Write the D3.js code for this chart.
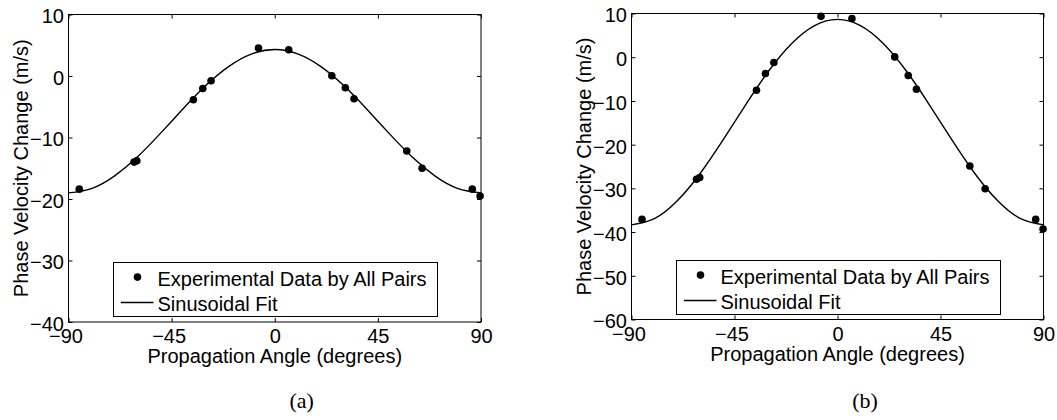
<!DOCTYPE html>
<html>

<head>
    <meta charset="utf-8">
    <title>Phase velocity change</title>
    <script src="https://d3js.org/d3.v7.min.js"></script>
    <style>
        body {
            margin: 0;
            background: #fff;
        }

        text {
            font-family: "Liberation Sans", Arial, sans-serif;
            font-size: 20px;
            fill: #000;
        }

        .caption {
            font-family: "Liberation Serif", "Times New Roman", serif;
            font-size: 22px;
        }
    </style>
</head>

<body>
    <div id="chart"></div>
    <script>
        // ticks
        var xTicks = [-90, -45, 0, 45, 90];
        var yTicksA = [-40, -30, -20, -10, 0, 10];
        var yTicksB = [-60, -50, -40, -30, -20, -10, 0, 10];

        // experimental points (degrees, m/s)
        var angleA = [-85.3, -61.4, -60.2, -35.5, -31.4, -27.8, -7.1, 6.1, 24.9, 30.8, 34.6, 57.6, 64.3, 86.2, 89.6];
        var velocityA = [-18.4, -14.0, -13.8, -3.87, -2.03, -0.78, 4.54, 4.26, 0.03, -1.92, -3.71, -12.2, -15.0, -18.4, -19.5];
        var angleB = [-85.4, -61.6, -60.2, -35.4, -31.5, -27.8, -7.2, 6.3, 25.0, 30.9, 34.5, 57.8, 64.5, 86.6, 89.8];
        var velocityB = [-37.1, -27.9, -27.5, -7.55, -3.73, -1.21, 9.35, 8.85, 0.07, -4.19, -7.32, -24.9, -30.1, -37.1, -39.3];

        var fitAngles = [-90, -80, -70, -60, -50, -40, -30, -20, -10, 0, 10, 20, 30, 40, 50, 60, 70, 80, 90];
        var fitA = [-19.0, -18.3, -16.27, -13.18, -9.37, -5.33, -1.52, 1.57, 3.6, 4.3, 3.6, 1.57, -1.52, -5.33, -9.37, -13.18, -16.27, -18.3, -19.0];
        var fitB = [-38.35, -36.93, -32.85, -26.6, -18.93, -10.77, -3.1, 3.15, 7.23, 8.65, 7.23, 3.15, -3.1, -10.77, -18.93, -26.6, -32.85, -36.93, -38.35];

        var legendLabels = ["Experimental Data by All Pairs", "Sinusoidal Fit"];

        var svg = d3.select("#chart").append("svg")
            .attr("width", 1057).attr("height", 420);

        svg.append("rect").attr("width", 1057).attr("height", 420).attr("fill", "#fff");

        function drawPanel(p) {
            var x = d3.scaleLinear().domain([-90, 90]).range([p.left, p.right]);
            var y = d3.scaleLinear().domain(d3.extent(p.yTicks)).range([p.bottom, p.top]);
            var g = svg.append("g").attr("class", "panel-" + p.name);

            // inward ticks on all four sides, labels only bottom/left
            g.append("g").attr("transform", "translate(0," + p.bottom + ")")
                .call(d3.axisBottom(x).tickValues(xTicks).tickSize(-4).tickPadding(7).tickFormat(d3.format("d")))
                .call(function (a) {
                    a.select(".domain").remove();
                    a.selectAll("text").attr("dx", function (d) { return d < 0 ? -3 : 0; })
                        .attr("font-size", null).attr("font-family", null);
                });
            g.append("g").attr("transform", "translate(" + p.left + ",0)")
                .call(d3.axisLeft(y).tickValues(p.yTicks).tickSize(-4).tickPadding(4.5).tickFormat(d3.format("d")))
                .call(function (a) {
                    a.select(".domain").remove();
                    a.selectAll("text").attr("dy", "0.42em").attr("font-size", null).attr("font-family", null);
                });
            g.append("g").attr("transform", "translate(0," + p.top + ")")
                .call(d3.axisTop(x).tickValues(xTicks).tickSize(-4).tickFormat(""))
                .call(function (a) { a.select(".domain").remove(); });
            g.append("g").attr("transform", "translate(" + p.right + ",0)")
                .call(d3.axisRight(y).tickValues(p.yTicks).tickSize(-4).tickFormat(""))
                .call(function (a) { a.select(".domain").remove(); });
            g.selectAll(".tick line").attr("stroke", "#000");

            g.append("rect")
                .attr("x", p.left).attr("y", p.top)
                .attr("width", p.right - p.left).attr("height", p.bottom - p.top)
                .attr("fill", "none").attr("stroke", "#000").attr("stroke-width", 1);

            var clipId = "clip-" + p.name;
            g.append("clipPath").attr("id", clipId).append("rect")
                .attr("x", p.left).attr("y", p.top - 5)
                .attr("width", p.right - p.left).attr("height", p.bottom - p.top + 10);

            var line = d3.line()
                .x(function (d, i) { return x(fitAngles[i]); })
                .y(function (d) { return y(d); })
                .curve(d3.curveNatural);

            g.append("path").datum(p.fit)
                .attr("d", line)
                .attr("clip-path", "url(#" + clipId + ")")
                .attr("fill", "none").attr("stroke", "#000").attr("stroke-width", 1.4);

            g.append("g").selectAll("circle")
                .data(p.angles)
                .enter().append("circle")
                .attr("cx", function (d) { return x(d); })
                .attr("cy", function (d, i) { return y(p.values[i]); })
                .attr("r", 3.8)
                .attr("fill", "#000");

            // legend, centred at the bottom of the axes
            var lw = 324, lh = 54;
            var lx = Math.round((p.left + p.right) / 2 - lw / 2) + 0.5;
            var ly = Math.round(p.bottom - 6 - lh) + 0.5;
            var leg = g.append("g").attr("transform", "translate(" + lx + "," + ly + ")");
            leg.append("rect").attr("width", lw).attr("height", lh)
                .attr("fill", "#fff").attr("stroke", "#000").attr("stroke-width", 1);
            leg.append("circle").attr("cx", 24).attr("cy", 14.6).attr("r", 3.8).attr("fill", "#000");
            leg.append("line").attr("x1", 7.3).attr("x2", 40).attr("y1", 40).attr("y2", 40)
                .attr("stroke", "#000").attr("stroke-width", 1.4);
            leg.selectAll("text.lab").data(legendLabels).enter().append("text")
                .attr("class", "lab")
                .attr("x", 44)
                .attr("y", function (d, i) { return i === 0 ? 23.3 : 48; })
                .text(function (d) { return d; });

            // axis titles
            g.append("text")
                .attr("x", (p.left + p.right) / 2).attr("y", p.bottom + 41)
                .attr("text-anchor", "middle")
                .text("Propagation Angle (degrees)");
            g.append("text")
                .attr("transform", "translate(" + (p.left - 41) + "," + ((p.top + p.bottom) / 2) + ") rotate(-90)")
                .attr("text-anchor", "middle")
                .text("Phase Velocity Change (m/s)");

            g.append("text").attr("class", "caption")
                .attr("x", p.captionX).attr("y", 408)
                .attr("text-anchor", "middle")
                .text(p.caption);
        }

        drawPanel({
            name: "a", left: 68.5, right: 481, top: 14.5, bottom: 322,
            yTicks: yTicksA, angles: angleA, values: velocityA, fit: fitA,
            caption: "(a)", captionX: 301.7
        });

        drawPanel({
            name: "b", left: 631.5, right: 1043.5, top: 13.5, bottom: 319.5,
            yTicks: yTicksB, angles: angleB, values: velocityB, fit: fitB,
            caption: "(b)", captionX: 865
        });
    </script>
</body>

</html>
